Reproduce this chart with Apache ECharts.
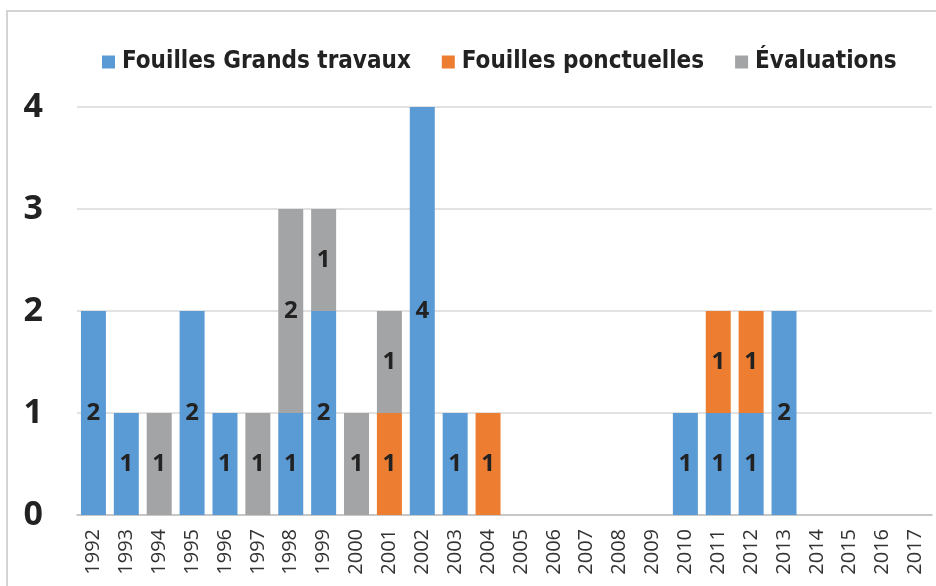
<!DOCTYPE html>
<html>
<head>
    <meta charset="utf-8">
    <title>Fouilles</title>
    <script src="https://cdn.jsdelivr.net/npm/echarts@6/dist/echarts.min.js"></script>
</head>
<body style="margin:0;">
    <div id="c" style="width:936px;height:586px;"></div>
    <script>
        // years and values per series (0 = no bar)
        var years = ['1992','1993','1994','1995','1996','1997','1998','1999','2000','2001','2002','2003','2004',
                     '2005','2006','2007','2008','2009','2010','2011','2012','2013','2014','2015','2016','2017'];
        var grandsTravaux = [2,1,0,2,1,0,1,2,0,0,4,1,0, 0,0,0,0,0,1,1,1,2,0,0,0,0];
        var ponctuelles   = [0,0,0,0,0,0,0,0,0,1,0,0,1, 0,0,0,0,0,0,1,1,0,0,0,0,0];
        var evaluations   = [0,0,1,0,0,1,2,1,1,1,0,0,0, 0,0,0,0,0,0,0,0,0,0,0,0,0];
        var yTicks = [0, 1, 2, 3, 4];

        var fnt = '"Liberation Sans Narrow", "DejaVu Sans Condensed", sans-serif';

        function mk(name, data, color) {
            return {
                name: name,
                type: 'bar',
                stack: 'tot',
                barCategoryGap: '24%',
                itemStyle: { color: color },
                label: {
                    show: true,
                    position: 'inside',
                    fontFamily: 'Open Sans',
                    fontWeight: 'bold',
                    fontSize: 24,
                    color: '#222',
                    formatter: function (p) { return p.value ? p.value : ''; }
                },
                data: data.map(function (v) { return v === 0 ? null : v; })
            };
        }

        var myChart = echarts.init(document.getElementById('c'));
        var option = {
            animation: false,
            graphic: [{
                type: 'rect',
                shape: { x: 7, y: 11, width: 940, height: 590 },
                style: { fill: 'none', stroke: '#d4d4d4', lineWidth: 2 },
                silent: true
            }],
            legend: {
                top: 45,
                left: 97,
                itemWidth: 13,
                itemHeight: 13,
                itemGap: 31,
                icon: 'rect',
                textStyle: { fontFamily: fnt, fontWeight: 'bold', fontSize: 24, color: '#222', padding: [0, 0, 0, 2] },
                data: ['Fouilles Grands travaux', 'Fouilles ponctuelles', 'Évaluations']
            },
            grid: { left: 77, right: 4, top: 107, bottom: 71 },
            xAxis: {
                type: 'category',
                data: years,
                axisLine: { lineStyle: { color: '#bfbfbf', width: 1.5 } },
                axisTick: { show: false },
                axisLabel: { rotate: 90, fontFamily: 'Open Sans', fontSize: 20, color: '#333', margin: 14 }
            },
            yAxis: {
                type: 'value',
                min: yTicks[0],
                max: yTicks[yTicks.length - 1],
                interval: 1,
                axisLabel: { fontFamily: 'Open Sans', fontWeight: 'bold', fontSize: 34, color: '#222', margin: 34 },
                splitLine: { lineStyle: { color: '#d9d9d9', width: 1.5 } }
            },
            series: [
                mk('Fouilles Grands travaux', grandsTravaux, '#5b9bd5'),
                mk('Fouilles ponctuelles', ponctuelles, '#ed7d31'),
                mk('Évaluations', evaluations, '#a3a4a6')
            ]
        };
        myChart.setOption(option);
    </script>
</body>
</html>
